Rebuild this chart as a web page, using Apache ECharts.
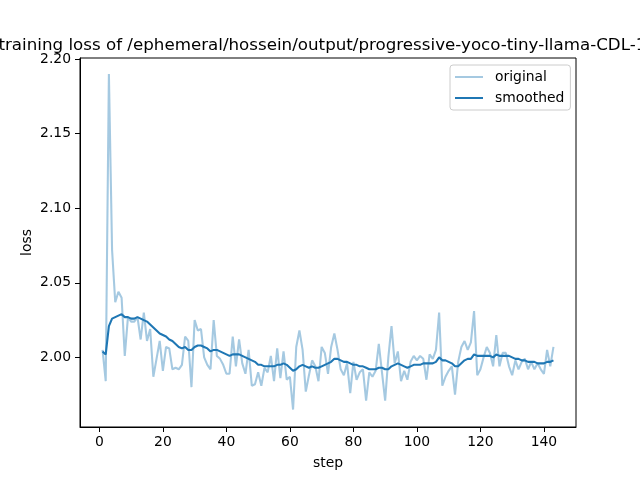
<!DOCTYPE html>
<html>
<head>
<meta charset="utf-8">
<script src="https://cdn.jsdelivr.net/npm/echarts@6/dist/echarts.min.js"></script>
<style>html,body{margin:0;padding:0;background:#fff}#c{width:640px;height:480px}</style>
</head>
<body>
<div id="c"></div>
<script>
const titleText = "training loss of /ephemeral/hossein/output/progressive-yoco-tiny-llama-CDL-128";
const xTicks = [0, 20, 40, 60, 80, 100, 120, 140];
const yTicks = [2.00, 2.05, 2.10, 2.15, 2.20];
const original = [
  2.005, 1.984, 2.190, 2.072, 2.037, 2.044, 2.040, 2.001, 2.027, 2.024,
  2.024, 2.027, 2.012, 2.030, 2.011, 2.019, 1.987, 1.999, 2.011, 1.991,
  2.007, 2.006, 1.992, 1.993, 1.992, 1.995, 2.014, 2.011, 1.980, 2.025,
  2.018, 2.019, 2.000, 1.995, 1.992, 2.025, 2.001, 1.999, 1.995, 1.989,
  1.989, 2.014, 1.994, 2.012, 1.996, 1.989, 2.005, 1.981, 1.982, 1.990,
  1.981, 1.993, 1.990, 2.001, 1.984, 2.006, 1.986, 2.004, 1.985, 1.987,
  1.965, 2.007, 2.018, 2.005, 1.977, 1.988, 1.998, 1.994, 1.984, 2.007,
  2.003, 1.989, 2.007, 2.016, 2.005, 1.992, 1.988, 1.996, 1.976, 1.997,
  1.985, 1.990, 1.992, 1.971, 1.990, 1.987, 1.991, 2.009, 1.990, 1.971,
  2.000, 2.021, 1.996, 2.004, 1.984, 1.991, 1.985, 1.997, 2.001, 1.998,
  2.001, 1.999, 1.985, 2.002, 1.999, 2.005, 2.030, 1.981, 1.987, 1.991,
  1.994, 1.975, 1.997, 2.007, 2.011, 2.005, 2.010, 2.031, 1.988, 1.992,
  2.000, 2.007, 2.003, 1.994, 2.015, 1.994, 2.003, 2.003, 1.994, 1.988,
  1.998, 1.992, 1.997, 1.999, 1.992, 1.997, 1.992, 1.996, 1.992, 1.989,
  2.005, 1.994, 2.007
];
const smoothed = [
  2.004, 2.002, 2.021, 2.026, 2.027, 2.028, 2.029, 2.027, 2.027, 2.026,
  2.026, 2.027, 2.026, 2.025, 2.024, 2.022, 2.020, 2.018, 2.016, 2.015,
  2.014, 2.012, 2.011, 2.009, 2.007, 2.006, 2.007, 2.005, 2.005, 2.007,
  2.008, 2.008, 2.007, 2.006, 2.004, 2.005, 2.005, 2.004, 2.003, 2.002,
  2.001, 2.002, 2.002, 2.002, 2.001, 2.000, 1.999, 1.998, 1.997, 1.995,
  1.995, 1.994, 1.994, 1.994, 1.994, 1.995, 1.995, 1.996, 1.995, 1.993,
  1.991, 1.992, 1.994, 1.995, 1.994, 1.993, 1.994, 1.993, 1.993, 1.994,
  1.995, 1.996, 1.997, 1.999, 1.999, 1.998, 1.997, 1.997, 1.996, 1.995,
  1.995, 1.994, 1.994, 1.993, 1.992, 1.992, 1.992, 1.993, 1.993, 1.992,
  1.992, 1.994, 1.995, 1.996, 1.995, 1.994, 1.993, 1.994, 1.995, 1.995,
  1.995, 1.996, 1.996, 1.996, 1.996, 1.997, 2.000, 1.998, 1.998, 1.997,
  1.996, 1.994, 1.994, 1.996, 1.998, 1.999, 1.999, 2.002, 2.001, 2.001,
  2.001, 2.001, 2.001, 2.000, 2.002, 2.001, 2.001, 2.001, 2.001, 2.000,
  1.999, 1.999, 1.998, 1.998, 1.997, 1.997, 1.997, 1.996, 1.996, 1.996,
  1.997, 1.997, 1.998
];
const steps = original.map((_, i) => i + 1);

const FONT = 'DejaVu Sans';
const chart = echarts.init(document.getElementById('c'), null, {renderer: 'canvas'});
chart.setOption({
  animation: false,
  backgroundColor: '#fff',
  textStyle: {fontFamily: FONT},
  title: {
    text: titleText,
    left: 328, top: 32, textAlign: 'center',
    textStyle: {fontFamily: FONT, fontSize: 16.7, fontWeight: 'normal', color: '#000'}
  },
  legend: {
    orient: 'vertical', left: 450, top: 65,
    padding: [5, 6, 5, 5], itemGap: 7,
    itemWidth: 28, itemHeight: 2, icon: 'rect',
    backgroundColor: 'rgba(255,255,255,0.8)',
    borderColor: '#cccccc', borderWidth: 1, borderRadius: 3,
    textStyle: {fontFamily: FONT, fontSize: 13.9, color: '#000', padding: [0, 0, 0, 7]},
    data: ['original', 'smoothed']
  },
  grid: {left: 80, top: 58, width: 496, height: 369, show: true, borderColor: '#000', borderWidth: 1, backgroundColor: 'transparent'},
  xAxis: {
    type: 'value', min: -6.1, max: 150.1,
    name: 'step', nameLocation: 'middle', nameGap: 29,
    nameTextStyle: {fontFamily: FONT, fontSize: 13.9, color: '#000'},
    axisLine: {show: true, onZero: false, lineStyle: {color: '#000', width: 1}},
    axisTick: {show: true, inside: false, length: 5, customValues: xTicks, lineStyle: {color: '#000'}},
    axisLabel: {customValues: xTicks, margin: 8, fontFamily: FONT, fontSize: 13.9, color: '#000'},
    splitLine: {show: false}
  },
  yAxis: {
    type: 'value', min: 1.9533, max: 2.2008,
    name: 'loss', nameLocation: 'middle', nameGap: 46, nameMoveOverlap: false,
    nameTextStyle: {fontFamily: FONT, fontSize: 13.9, color: '#000'},
    axisLine: {show: true, onZero: false, lineStyle: {color: '#000', width: 1}},
    axisTick: {show: true, inside: false, length: 5, customValues: yTicks, lineStyle: {color: '#000'}},
    axisLabel: {customValues: yTicks, margin: 9, fontFamily: FONT, fontSize: 13.9, color: '#000', formatter: v => v.toFixed(2)},
    splitLine: {show: false}
  },
  series: [
    {
      name: 'original', type: 'line', showSymbol: false, symbol: 'none',
      data: steps.map((s, i) => [s, original[i]]),
      lineStyle: {color: 'rgba(31,119,180,0.4)', width: 2.08},
      itemStyle: {color: 'rgba(31,119,180,0.4)'},
      z: 2
    },
    {
      name: 'smoothed', type: 'line', showSymbol: false, symbol: 'none',
      data: steps.map((s, i) => [s, smoothed[i]]),
      lineStyle: {color: '#1f77b4', width: 2.08},
      itemStyle: {color: '#1f77b4'},
      z: 3
    }
  ]
});
</script>
</body>
</html>
